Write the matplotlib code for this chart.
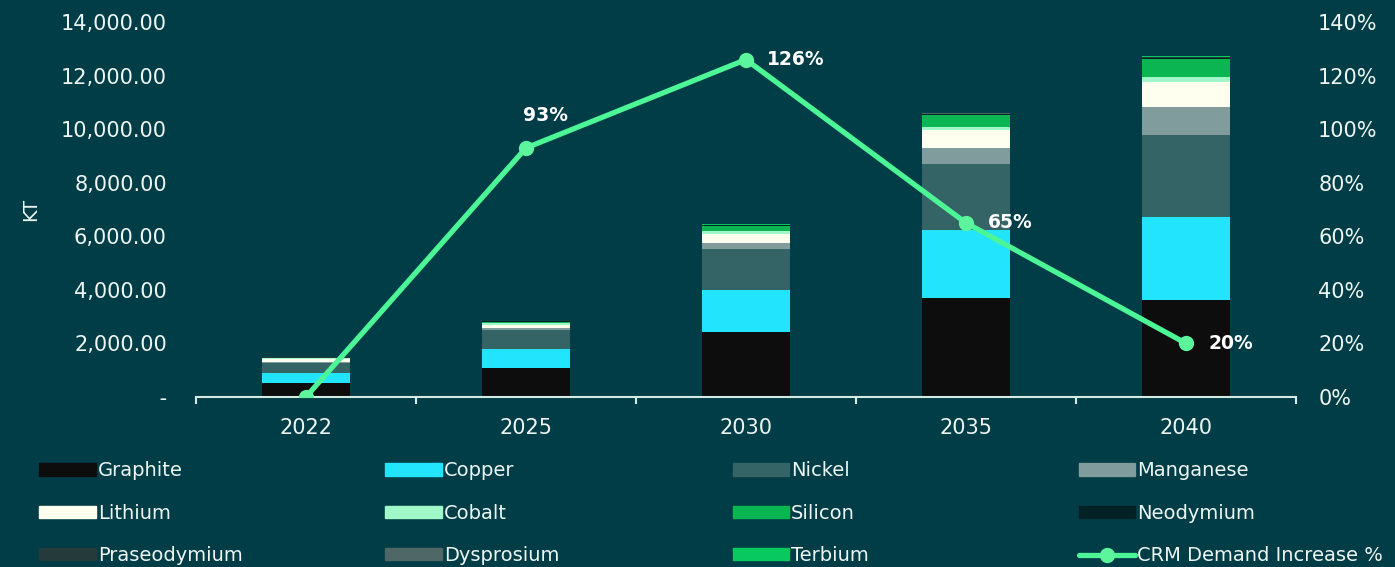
import matplotlib
matplotlib.use("Agg")
import matplotlib.pyplot as plt
import matplotlib.ticker as mticker
from matplotlib.patches import Patch
import numpy as np

plt.rcParams['font.family'] = ['DejaVu Sans']

BG = '#013d47'
TXT = '#eef6f2'

years = ['2022', '2025', '2030', '2035', '2040']
minerals = ['Graphite', 'Copper', 'Nickel', 'Manganese', 'Lithium', 'Cobalt',
            'Silicon', 'Neodymium', 'Praseodymium', 'Dysprosium', 'Terbium']
colors = ['#0d0d0d', '#22e4fc', '#356466', '#819c9c', '#fffff0', '#a0f8c8',
          '#0ab552', '#022226', '#253a3a', '#4f6767', '#08c860']

# kt per year
graphite = [530, 1095, 2415, 3685, 3620]
copper = [370, 690, 1580, 2550, 3110]
nickel = [350, 720, 1520, 2450, 3035]
manganese = [60, 60, 225, 600, 1070]
lithium = [100, 135, 335, 670, 910]
cobalt = [30, 50, 135, 125, 210]
silicon = [20, 60, 175, 450, 670]
neodymium = [10, 15, 30, 40, 50]
praseodymium = [3, 5, 10, 15, 20]
dysprosium = [2, 3, 10, 10, 15]
terbium = [5, 8, 20, 20, 30]

crm_increase = [0, 93, 126, 65, 20]
crm_labels = [None, '93%', '126%', '65%', '20%']

series = [graphite, copper, nickel, manganese, lithium, cobalt, silicon,
          neodymium, praseodymium, dysprosium, terbium]

fig = plt.figure(figsize=(13.95, 5.67), dpi=100, facecolor=BG)
ax = fig.add_axes([0.1405, 0.3, 0.7885, 0.661])
ax.set_facecolor(BG)
x = np.arange(len(years))

bottom = np.zeros(len(years))
for vals, c, name in zip(series, colors, minerals):
    ax.bar(x, vals, width=0.4, bottom=bottom, color=c, linewidth=0, label=name, zorder=2)
    bottom += np.array(vals)

ax.set_xlim(-0.5, len(years) - 0.5)
ax.set_ylim(0, 14000)
ax.yaxis.set_major_locator(mticker.MultipleLocator(2000))
ax.yaxis.set_major_formatter(mticker.FuncFormatter(lambda v, p: ' -' if v == 0 else f'{v:,.2f}'))
ax.set_xticks(x)
ax.set_xticklabels(years)
ax.set_xticks(np.arange(-0.5, len(years)), minor=True)
ax.tick_params(axis='x', which='major', length=0, pad=15, labelsize=15, labelcolor=TXT)
ax.tick_params(axis='x', which='minor', length=5, width=1.5, color='#d4ebe2', direction='out')
ax.tick_params(axis='y', length=0, pad=21, labelsize=15, labelcolor=TXT)
for s in ['top', 'right', 'left']:
    ax.spines[s].set_visible(False)
ax.spines['bottom'].set_color('#d4ebe2')
ax.spines['bottom'].set_linewidth(1.5)
ax.set_ylabel('KT', color=TXT, fontsize=14, labelpad=15)

ax2 = ax.twinx()
ax2.set_ylim(0, 140)
ax2.yaxis.set_major_locator(mticker.MultipleLocator(20))
ax2.yaxis.set_major_formatter(mticker.FuncFormatter(lambda v, p: f'{v:.0f}%'))
ax2.tick_params(axis='y', length=0, pad=16, labelsize=15, labelcolor=TXT)
for s in ['top', 'right', 'left', 'bottom']:
    ax2.spines[s].set_visible(False)
line, = ax2.plot(x, crm_increase, color='#4cf596', lw=3.8, marker='o', markersize=11,
                 markerfacecolor='#5cf59e', markeredgewidth=0, zorder=5,
                 label='CRM Demand Increase %', solid_capstyle='round')

offsets = [None, (14, 23), (36, 0), (32, 0), (32, 0)]
for xi, yi, lab, off in zip(x, crm_increase, crm_labels, offsets):
    if lab is None:
        continue
    ax2.annotate(lab, (xi, yi), xytext=off, textcoords='offset points',
                 ha='center', va='center', color='white', fontsize=13.5, fontweight='bold')

# legend: four columns at fixed positions
handles = [Patch(color=c) for c in colors] + [line]
names = minerals + ['CRM Demand Increase %']
col_x = [0.0227, 0.2707, 0.5197, 0.7677]
for ci, cx in enumerate(col_x):
    idx = [ci, ci + 4, ci + 8]
    hs = [handles[i] for i in idx]
    ns = [names[i] for i in idx]
    leg = fig.legend(hs, ns, loc='upper left', bbox_to_anchor=(cx, 0.2), frameon=False,
                     fontsize=14, handlelength=2.9, handleheight=0.6, handletextpad=0.1,
                     labelspacing=1.2, borderaxespad=0, borderpad=0.4)
    for t in leg.get_texts():
        t.set_color(TXT)

fig.savefig('out.png', facecolor=BG, dpi=100)
